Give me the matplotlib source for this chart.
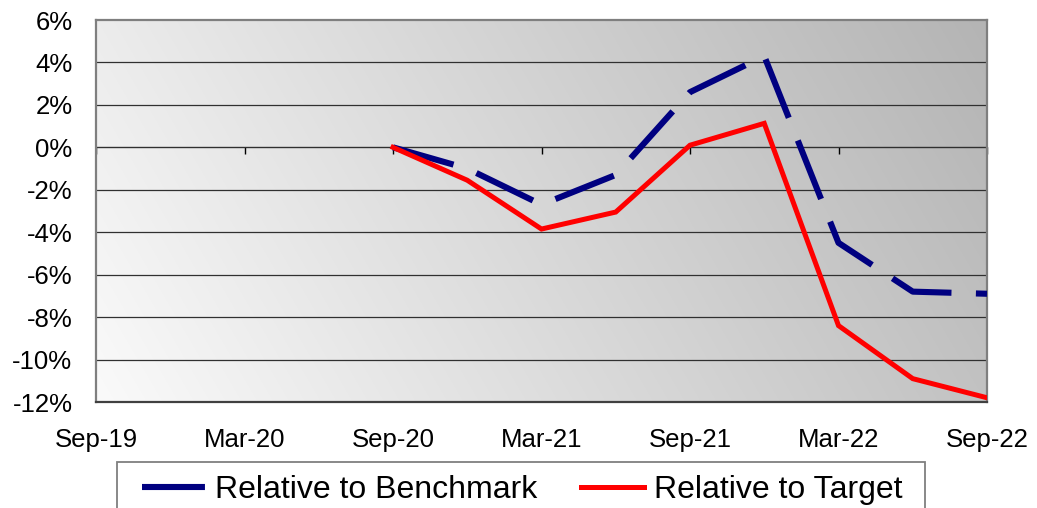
import numpy as np
import matplotlib
matplotlib.use("Agg")
import matplotlib.pyplot as plt
from matplotlib.patches import Rectangle

plt.rcParams['font.family'] = ['Liberation Sans', 'DejaVu Sans']

# Axis tick labels (every 6 months)
tick_labels = ["Sep-19", "Mar-20", "Sep-20", "Mar-21", "Sep-21", "Mar-22", "Sep-22"]
# Quarterly observation dates
quarters = ["Sep-20", "Dec-20", "Mar-21", "Jun-21", "Sep-21", "Dec-21", "Mar-22", "Jun-22", "Sep-22"]
# Values in %
rel_benchmark = [0.0, -1.0, -2.7, -1.3, 2.6, 4.3, -4.5, -6.8, -6.9]
rel_target = [0.0, -1.55, -3.85, -3.05, 0.1, 1.13, -8.4, -10.9, -11.8]

def to_month(lbl):
    m, y = lbl.split("-")
    base = (int(y) - 19) * 12
    mi = {"Sep": 0, "Dec": 3, "Mar": -6, "Jun": -3}[m]
    return base + mi

xq = [to_month(q) for q in quarters]
xt = [to_month(t) for t in tick_labels]

W, H = 1037, 508
fig = plt.figure(figsize=(W / 100, H / 100), dpi=100)
ax = fig.add_axes([96 / W, 1 - 402 / H, (987 - 96) / W, (402 - 20) / H])

# gradient background
nx, ny = 200, 100
gx = np.linspace(0, 1, nx)[None, :]
gy = np.linspace(0, 1, ny)[:, None]
val = 250 - 56 * gx - 14 * gy
img = np.clip(val, 0, 255) / 255.0
ax.imshow(np.dstack([img, img, img]), extent=[0, 1, 0, 1], transform=ax.transAxes,
          origin='lower', aspect='auto', zorder=0, interpolation='bilinear')

ax.set_xlim(xt[0], xt[-1])
ax.set_ylim(-12, 6)
yt = np.arange(-12, 7, 2)
ax.set_yticks(yt)
ax.set_yticklabels([f"{v}%" for v in yt])
ax.set_xticks(xt)
ax.set_xticklabels(tick_labels)
ax.tick_params(axis='y', length=0, pad=17, labelsize=18.5)
ax.tick_params(axis='x', length=0, pad=19, labelsize=18.5)

for v in yt[1:-1]:
    ax.axhline(v, color='#303030', lw=0.9, zorder=1)

for s in ax.spines.values():
    s.set_color('#7f7f7f')
    s.set_linewidth(1.6)
ax.spines['bottom'].set_color('#404040')

# zero axis with tick marks
sec = ax.secondary_xaxis(12 / 18)
sec.set_xticks(xt)
sec.tick_params(axis='x', direction='out', length=5, width=1, color='black', labelbottom=False, labeltop=False)
sec.xaxis.set_ticks_position('bottom')
sec.spines['bottom'].set_color('black')
sec.spines['bottom'].set_linewidth(1.0)
sec.set_xticklabels([])

l1, = ax.plot(xq, rel_benchmark, color='#000080', lw=4.4, dashes=(10.3, 4.0),
              dash_capstyle='butt', solid_joinstyle='miter', zorder=3,
              label='Relative to Benchmark')
l2, = ax.plot(xq, rel_target, color='#ff0000', lw=3.6, zorder=4,
              solid_joinstyle='miter', label='Relative to Target')
ax.set_zorder(1)

# legend box (extends beyond the bottom edge)
fig.patches.append(Rectangle((117 / W, -0.2), (925 - 117) / W, (1 - 462 / H) + 0.2,
                             transform=fig.transFigure, facecolor='white',
                             edgecolor='#7f7f7f', linewidth=1.3, zorder=0))

leg = fig.legend(handles=[l1, l2], loc='center left', ncol=2,
                 bbox_to_anchor=(142 / W, 1 - 490 / H), bbox_transform=fig.transFigure,
                 fontsize=23, frameon=False, handlelength=1.97,
                 handletextpad=0.3, columnspacing=1.4, borderpad=0,
                 borderaxespad=0)

fig.savefig("out.png", dpi=100)
